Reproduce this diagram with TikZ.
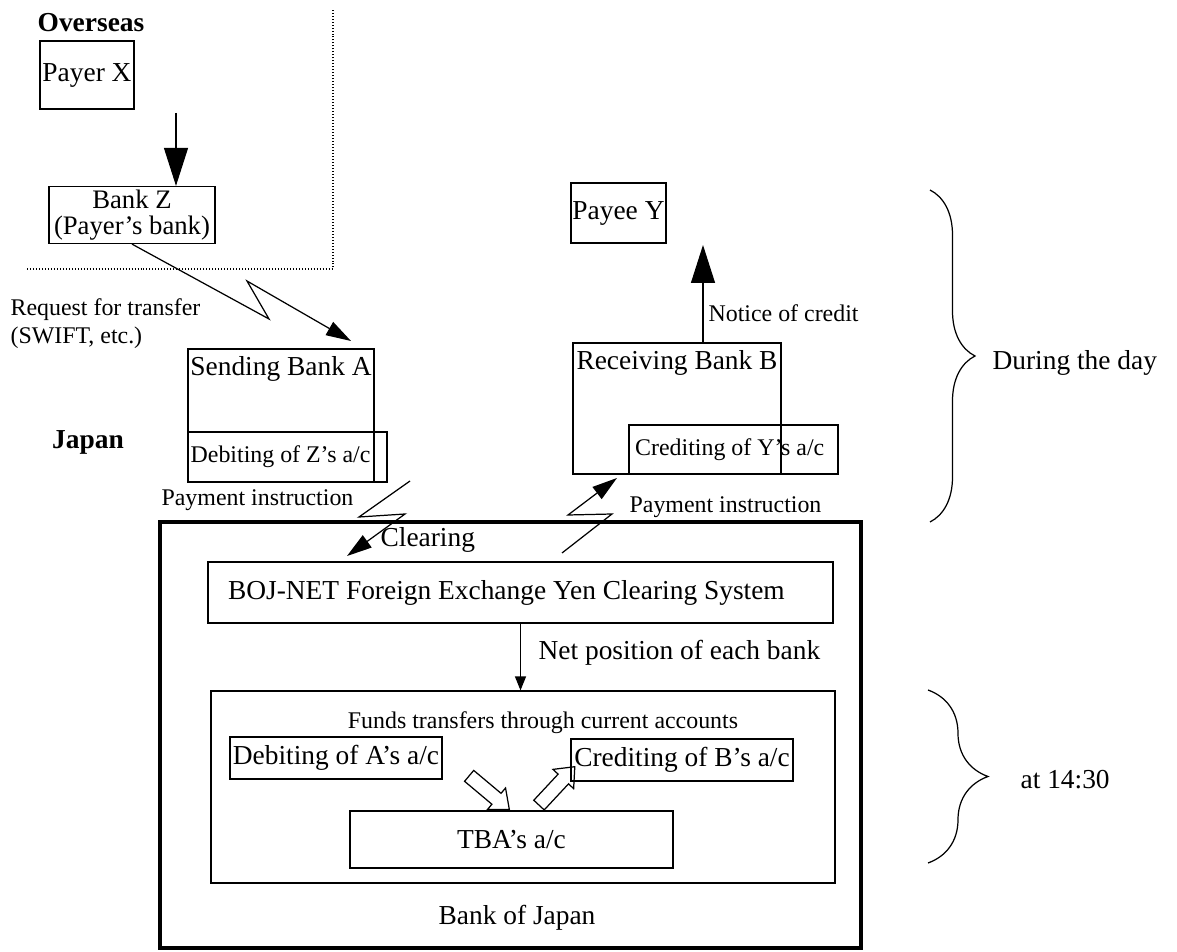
\documentclass[tikz,border=0pt]{standalone}
\usepackage{fontspec}
\setmainfont{Liberation Serif}
\usetikzlibrary{arrows.meta,positioning,shapes.arrows,decorations.pathreplacing,calc}

\newcommand{\boxfont}{\fontsize{15.6}{16}\selectfont}
\newcommand{\notefont}{\fontsize{13.6}{16}\selectfont}

\begin{document}
\begin{tikzpicture}[
    x=0.02cm, y=-0.02cm,
    line width=0.7pt,
    font=\boxfont,
    box/.style={draw, inner sep=0pt, align=center},
    note/.style={inner sep=0pt, font=\notefont},
    bigarrow/.style={-{Triangle[length=0.76cm,width=0.48cm]}},
    zap/.style={-{Triangle[length=0.5cm,width=0.3cm]}},
    netarrow/.style={-{Triangle[length=0.28cm,width=0.22cm]}},
    hollow/.style={draw, single arrow, inner sep=0.13cm, single arrow head extend=0.14cm, single arrow tip angle=80, minimum height=1.05cm},
    daybrace/.style={decorate, decoration={brace, amplitude=#1}}
  ]
    \useasboundingbox (0,0) rectangle (1177,952);

    % overseas side
    \node[font=\boxfont\bfseries] (overseas) at (91,23) {Overseas};
    \node[box, minimum width=1.88cm, minimum height=1.36cm] (payerX) at (87,75) {Payer X};
    \node[box, minimum width=3.32cm, minimum height=1.14cm, font=\fontsize{15.2}{14.5}\selectfont] (bankZ) at (132,215) {Bank Z\\(Payer's bank)};
    \draw[dash pattern=on 0.5pt off 1.2pt] (27,269) -- (333,269) -- (333,10);
    \coordinate (payTail) at (176,113);
    \draw[bigarrow] (payTail) -- (payTail |- bankZ.north);

    % japan side, during the day
    \node[font=\boxfont\bfseries] (japan) at (88,442) {Japan};
    \node[note, anchor=west, align=left] (swiftTxt) at (10,324) {Request for transfer\\(SWIFT, etc.)};
    \node[box, minimum width=3.72cm, minimum height=2.66cm] (sendA) at (281,415.5) {};
    \node[anchor=north, inner sep=0pt] (sendTxt) at ([yshift=-4pt]sendA.north) {Sending Bank A};
    \node[box, minimum width=3.98cm, minimum height=1cm] (debZ) at (287.5,457) {};
    \node[note, anchor=west] (debZTxt) at ([xshift=1.5pt]debZ.west) {Debiting of Z's a/c};
    \node[box, minimum width=4.16cm, minimum height=2.62cm] (recB) at (677,408.5) {};
    \node[anchor=north, inner sep=0pt] (recTxt) at ([yshift=-4pt]recB.north) {Receiving Bank B};
    \node[box, minimum width=4.18cm, minimum height=0.98cm] (credY) at (733.5,449.5) {};
    \node[note, anchor=west] (credYTxt) at ([xshift=3.5pt]credY.west) {Crediting of Y's a/c};
    \node[box, minimum width=1.9cm, minimum height=1.2cm] (payeeY) at (618.5,213) {Payee Y};

    \coordinate (swiftEnd) at (351,341);
    \draw[zap] (bankZ.south) -- (269,319) -- (247,281) -- (swiftEnd);
    \coordinate (noticeTip) at (703,245);
    \draw[bigarrow] (noticeTip |- recB.north) -- (noticeTip);
    \node[note, anchor=west] (noticeTxt) at (708,313) {Notice of credit};

    % payment instructions
    \coordinate (payIn) at (410,481);
    \coordinate (clearEnd) at (347,556);
    \draw[zap] (payIn) -- (359,517) -- (405,514) -- (clearEnd);
    \coordinate (payOut) at (562,553);
    \coordinate (credTip) at (617,478);
    \draw[zap] (payOut) -- (612,514) -- (568,515) -- (credTip);
    \node[note, anchor=east] (payLeft) at (354,500) {Payment instruction};
    \node[note, anchor=west] (payRight) at (629,507) {Payment instruction};
    \node[anchor=west, inner sep=0pt] (clearTxt) at (380,540) {Clearing};

    % bank of japan
    \node[box, line width=2pt, minimum width=14.02cm, minimum height=8.52cm] (boj) at (510.5,735) {};
    \node[box, minimum width=12.5cm, minimum height=1.22cm] (bojnet) at (520.5,592.5) {};
    \node[anchor=west, inner sep=0pt] (bojnetTxt) at ([xshift=0.4cm]bojnet.west) {BOJ-NET Foreign Exchange Yen Clearing System};
    \node[box, minimum width=12.48cm, minimum height=3.84cm] (funds) at (523,787) {};
    \draw[netarrow] (bojnet.south) -- (bojnet.south |- funds.north);
    \node[anchor=west, inner sep=0pt] (netTxt) at (538,653) {Net position of each bank};
    \node[note] (fundsTxt) at (543,723) {Funds transfers through current accounts};
    \node[box, minimum width=4.24cm, minimum height=0.84cm] (debA) at (336,758) {Debiting of A's a/c};
    \node[box, minimum width=4.44cm, minimum height=0.84cm] (credB) at (682,760) {Crediting of B's a/c};
    \node[box, minimum width=6.46cm, minimum height=1.14cm] (tba) at (511.5,839.5) {TBA's a/c};
    \node[hollow, rotate=-40] (toTba) at (486,790) {};
    \node[hollow, rotate=47] (fromTba) at (554,789) {};
    \node (bojTxt) at (517,918) {Bank of Japan};

    % time braces
    \draw[daybrace=0.9cm] (930,190) -- (930,522);
    \node[anchor=west, inner sep=0pt] (dayTxt) at (992,363) {During the day};
    \draw[daybrace=1.2cm] (928,690) -- (928,863);
    \node[anchor=west, inner sep=0pt] (timeTxt) at (1020,780) {at 14:30};
  \end{tikzpicture}
\end{document}
